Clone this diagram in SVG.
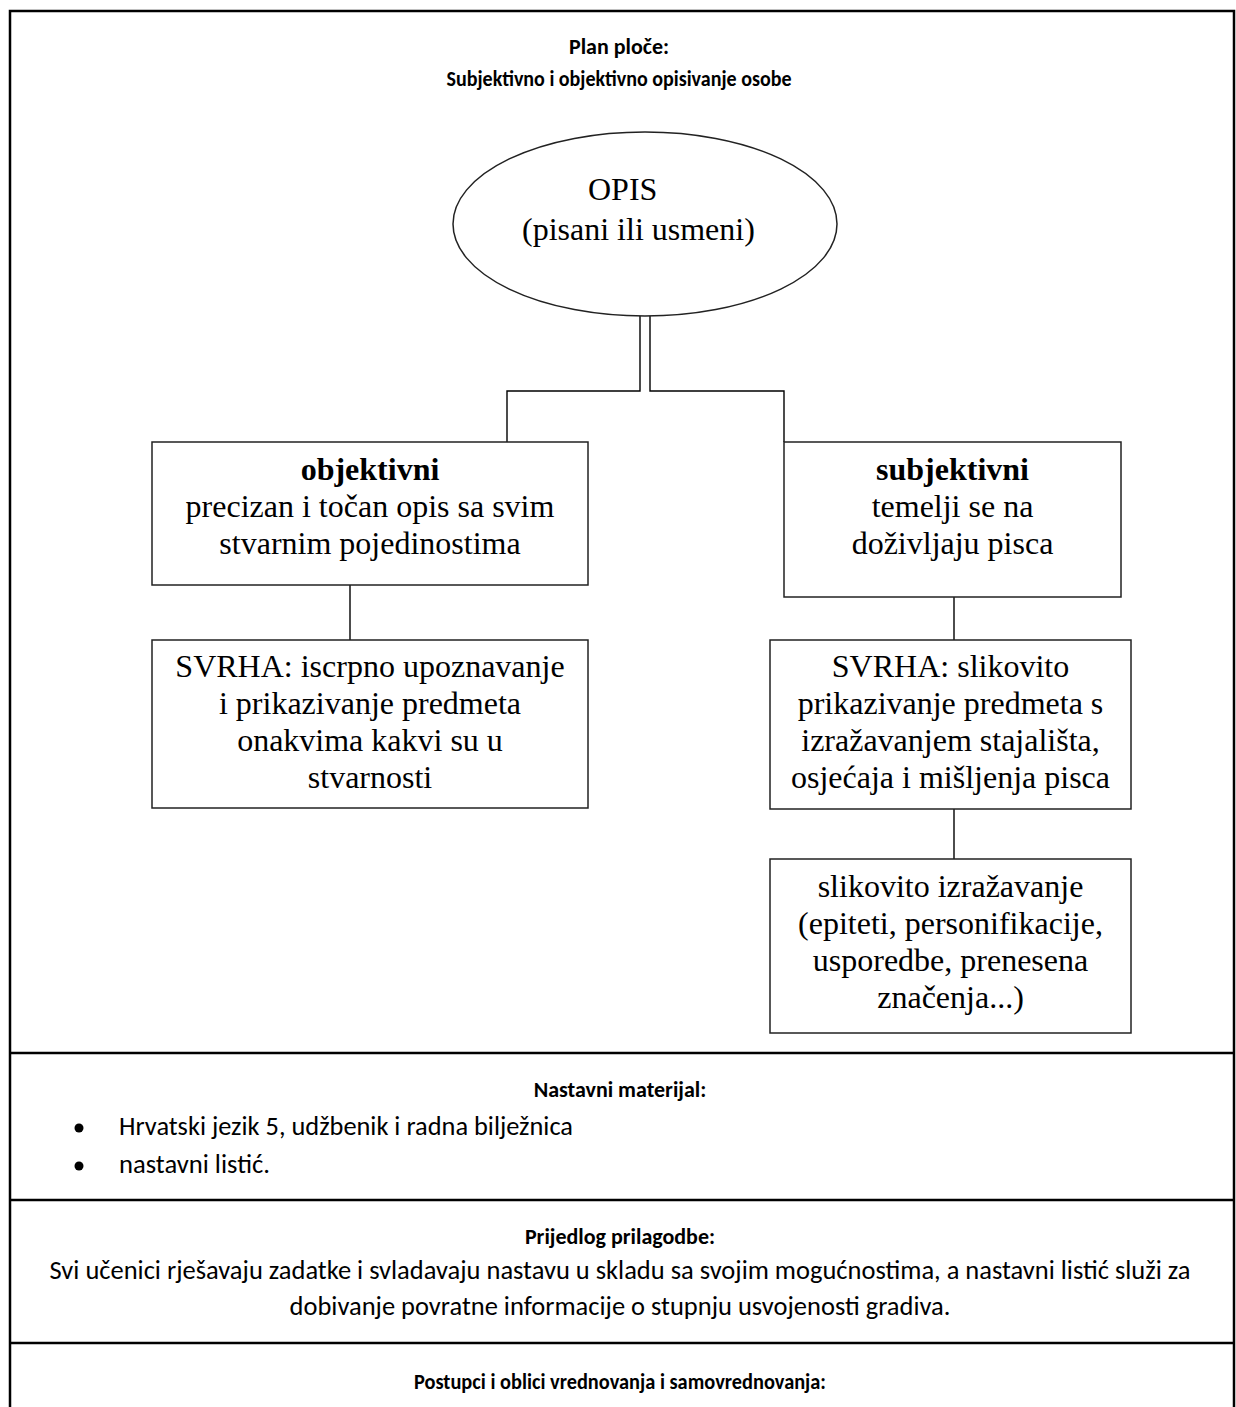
<svg xmlns="http://www.w3.org/2000/svg" width="1236" height="1407" viewBox="0 0 1236 1407">
<style>
.frame{fill:none;stroke:#000;stroke-width:2.5}
.box{fill:#fff;stroke:#222;stroke-width:1.5}
.conn{fill:none;stroke:#000;stroke-width:1.4}
.tr{font-family:"Liberation Serif","Times New Roman",serif;font-size:32px;fill:#000;text-anchor:middle}
.trb{font-weight:bold}
.cal{font-family:"Carlito","Open Sans","Noto Sans",sans-serif;font-size:26.3px;fill:#000}
.calb{font-weight:bold;text-anchor:middle;font-size:22px}
</style>
<rect width="1236" height="1407" fill="#fff"/>
<g id="frame">
<path class="frame" d="M10,1407 V11 H1234 V1407"/>
<line class="frame" x1="10" y1="1053" x2="1234" y2="1053"/>
<line class="frame" x1="10" y1="1200" x2="1234" y2="1200"/>
<line class="frame" x1="10" y1="1343" x2="1234" y2="1343"/>
</g>
<g id="title">
<text class="cal calb" x="619" y="54">Plan ploče:</text>
<text class="cal calb" x="619" y="86" textLength="345" lengthAdjust="spacingAndGlyphs">Subjektivno i objektivno opisivanje osobe</text>
</g>
<g id="connectors">
<path class="conn" d="M640,316 V391 H507 V442"/>
<path class="conn" d="M650,316 V391 H784 V442"/>
<line class="conn" x1="350" y1="585" x2="350" y2="640"/>
<line class="conn" x1="954" y1="597" x2="954" y2="640"/>
<line class="conn" x1="954" y1="809" x2="954" y2="859"/>
</g>
<g id="opis">
<ellipse class="box" cx="645" cy="224" rx="192" ry="92"/>
<text class="tr" x="588" y="200" style="text-anchor:start">OPIS</text>
<text class="tr" x="522" y="240" style="text-anchor:start">(pisani ili usmeni)</text>
</g>
<g id="objektivni">
<rect class="box" x="152" y="442" width="436" height="143"/>
<text class="tr trb" x="370" y="480">objektivni</text>
<text class="tr" x="370" y="517">precizan i točan opis sa svim</text>
<text class="tr" x="370" y="554">stvarnim pojedinostima</text>
</g>
<g id="svrha-objektivni">
<rect class="box" x="152" y="640" width="436" height="168"/>
<text class="tr" x="370" y="677">SVRHA: iscrpno upoznavanje</text>
<text class="tr" x="370" y="714">i prikazivanje predmeta</text>
<text class="tr" x="370" y="751">onakvima kakvi su u</text>
<text class="tr" x="370" y="788">stvarnosti</text>
</g>
<g id="subjektivni">
<rect class="box" x="784" y="442" width="337" height="155"/>
<text class="tr trb" x="952.5" y="480">subjektivni</text>
<text class="tr" x="952.5" y="517">temelji se na</text>
<text class="tr" x="952.5" y="554">doživljaju pisca</text>
</g>
<g id="svrha-subjektivni">
<rect class="box" x="770" y="640" width="361" height="169"/>
<text class="tr" x="950.5" y="677">SVRHA: slikovito</text>
<text class="tr" x="950.5" y="714">prikazivanje predmeta s</text>
<text class="tr" x="950.5" y="751">izražavanjem stajališta,</text>
<text class="tr" x="950.5" y="788">osjećaja i mišljenja pisca</text>
</g>
<g id="slikovito">
<rect class="box" x="770" y="859" width="361" height="174"/>
<text class="tr" x="950.5" y="897">slikovito izražavanje</text>
<text class="tr" x="950.5" y="934">(epiteti, personifikacije,</text>
<text class="tr" x="950.5" y="971">usporedbe, prenesena</text>
<text class="tr" x="950.5" y="1008">značenja...)</text>
</g>
<g id="nastavni-materijal">
<text class="cal calb" x="620" y="1097">Nastavni materijal:</text>
<circle cx="79" cy="1128" r="4.5" fill="#000"/>
<text class="cal" x="119" y="1135" textLength="454" lengthAdjust="spacingAndGlyphs">Hrvatski jezik 5, udžbenik i radna bilježnica</text>
<circle cx="79" cy="1166" r="4.5" fill="#000"/>
<text class="cal" x="119" y="1173" textLength="151" lengthAdjust="spacingAndGlyphs">nastavni listić.</text>
</g>
<g id="prijedlog">
<text class="cal calb" x="620" y="1244">Prijedlog prilagodbe:</text>
<text class="cal" x="620" y="1279" style="text-anchor:middle" textLength="1141" lengthAdjust="spacingAndGlyphs">Svi učenici rješavaju zadatke i svladavaju nastavu u skladu sa svojim mogućnostima, a nastavni listić služi za</text>
<text class="cal" x="620" y="1315" style="text-anchor:middle" textLength="661" lengthAdjust="spacingAndGlyphs">dobivanje povratne informacije o stupnju usvojenosti gradiva.</text>
</g>
<g id="postupci">
<text class="cal calb" x="620" y="1389" textLength="412" lengthAdjust="spacingAndGlyphs">Postupci i oblici vrednovanja i samovrednovanja:</text>
</g>
</svg>
